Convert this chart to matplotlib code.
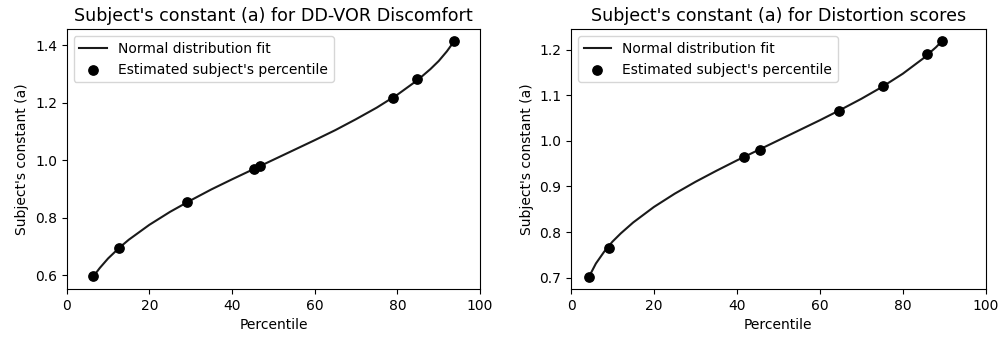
import matplotlib
matplotlib.use("Agg")
import matplotlib.pyplot as plt

# DD-VOR Discomfort: estimated subject percentiles
ddvor_pct = [6.3, 12.7, 29.0, 45.3, 46.8, 79.0, 84.7, 93.7]
ddvor_a = [0.597, 0.695, 0.854, 0.970, 0.982, 1.218, 1.281, 1.415]

# DD-VOR Discomfort: normal distribution fit curve
ddvor_fit_pct = [6.3, 8, 10, 12.7, 15, 20, 25, 30, 35, 40, 45, 50,
                 55, 60, 65, 70, 75, 80, 85, 88, 90, 92, 93.7]
ddvor_fit_a = [0.594, 0.626, 0.659, 0.696, 0.724, 0.776, 0.821, 0.861,
               0.899, 0.934, 0.968, 1.002, 1.036, 1.070, 1.105, 1.143,
               1.183, 1.228, 1.280, 1.317, 1.345, 1.379, 1.413]

# Distortion scores: estimated subject percentiles
dist_pct = [4.4, 9.2, 41.6, 45.6, 64.7, 75.2, 85.9, 89.5]
dist_a = [0.701, 0.766, 0.964, 0.979, 1.066, 1.119, 1.191, 1.219]

# Distortion scores: normal distribution fit curve
dist_fit_pct = [4.4, 6, 8, 10, 12, 15, 20, 25, 30, 35, 40, 45, 50,
                55, 60, 65, 70, 75, 80, 85, 88, 89.5]
dist_fit_a = [0.703, 0.731, 0.757, 0.779, 0.797, 0.821, 0.855, 0.884,
              0.910, 0.934, 0.957, 0.979, 1.001, 1.023, 1.045, 1.068,
              1.092, 1.118, 1.147, 1.181, 1.205, 1.219]

panels = [
    ("Subject's constant (a) for DD-VOR Discomfort",
     ddvor_fit_pct, ddvor_fit_a, ddvor_pct, ddvor_a),
    ("Subject's constant (a) for Distortion scores",
     dist_fit_pct, dist_fit_a, dist_pct, dist_a),
]

fig = plt.figure(figsize=(9.99, 3.38), dpi=100)
positions = [[0.0668, 0.145, 0.4137, 0.769], [0.5716, 0.145, 0.4151, 0.769]]

for pos, (title, fx, fy, px, py) in zip(positions, panels):
    ax = fig.add_axes(pos)
    ax.plot(fx, fy, color="#1a1a1a", linewidth=1.5, label="Normal distribution fit")
    ax.scatter(px, py, color="black", s=45, zorder=3,
               label="Estimated subject's percentile")
    ax.set_xlim(0, 100)
    ax.set_title(title, fontsize=12.6)
    ax.set_xlabel("Percentile")
    ax.set_ylabel("Subject's constant (a)")
    ax.legend(loc="upper left")

plt.savefig("out.png", dpi=100)
plt.close()
